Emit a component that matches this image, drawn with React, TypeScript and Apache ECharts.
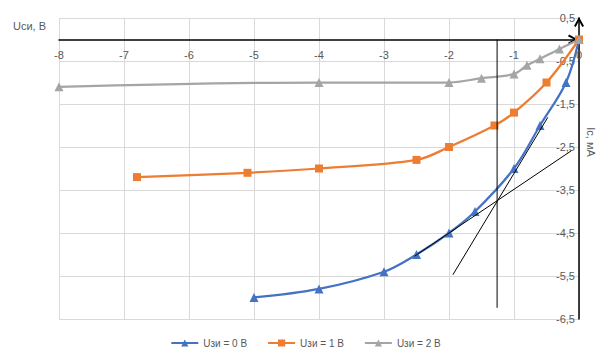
import React, { useEffect, useRef } from "react";
import * as echarts from "echarts";

const seriesNames = ["Uзи = 0 В", "Uзи = 1 В", "Uзи = 2 В"];
const blueX = [-5, -4, -3, -2.5, -2, -1.6, -1, -0.6, -0.2, 0];
const blueY = [-6.0, -5.8, -5.4, -5.0, -4.5, -4.0, -3.0, -2.0, -1.0, 0];
const orangeX = [-6.8, -5.1, -4, -2.5, -2, -1.3, -1, -0.5, 0];
const orangeY = [-3.2, -3.1, -3.0, -2.8, -2.5, -2.0, -1.7, -1.0, 0];
const grayX = [-8, -4, -2, -1.5, -1, -0.8, -0.6, -0.3, 0];
const grayY = [-1.1, -1.0, -1.0, -0.9, -0.8, -0.6, -0.45, -0.22, 0];
const tangent1 = [[-1.94, -5.47], [-0.48, -1.81]];
const tangent2 = [[-2.53, -5.04], [-0.12, -2.59]];
const verticalLine = [[-1.26, 0], [-1.26, -6.24]];

const FONT = "Liberation Sans";
const TXT = "#595959";
const arrowPath = "path://M5,0 L10,9 L8.3,10 L5,4 L1.7,10 L0,9 Z";

const zip = (xs: number[], ys: number[]) => xs.map((x, i) => [x, ys[i]]);

export default function App() {
  const ref = useRef<HTMLDivElement>(null);
  useEffect(() => {
    if (!ref.current) return;
    const chart = echarts.init(ref.current, undefined, { renderer: "svg" });
    const lineSeries = (name: string, color: string, symbol: string, data: number[][]) => ({
      name,
      type: "line",
      data,
      smooth: 0.35,
      symbol,
      symbolSize: symbol === "rect" ? 8 : 9,
      itemStyle: { color },
      lineStyle: { color, width: 2.25 },
      z: 3,
    });
    const refLine = (data: number[][]) => ({
      type: "line",
      data,
      symbol: "none",
      silent: true,
      lineStyle: { color: "#000", width: 1 },
      z: 4,
    });
    chart.setOption({
      animation: false,
      textStyle: { fontFamily: FONT },
      grid: [
        { left: 59, right: 32, top: 18, bottom: 42, containLabel: false },
        { left: 59, right: 32, top: 18, bottom: 321, containLabel: false },
      ],
      legend: {
        bottom: 8,
        left: "center",
        itemWidth: 27,
        itemHeight: 9,
        itemGap: 20,
        data: seriesNames,
        textStyle: { color: TXT, fontSize: 10, fontFamily: FONT },
      },
      xAxis: [
        {
          type: "value",
          gridIndex: 0,
          min: -8,
          max: 0,
          interval: 1,
          axisLine: {
            onZero: true,
            onZeroAxisIndex: 0,
            lineStyle: { color: "#000", width: 1.5 },
            symbol: ["none", arrowPath],
            symbolSize: [10, 12],
            symbolOffset: [0, -6],
          },
          axisTick: { show: false },
          axisLabel: { show: false },
          splitLine: { show: true, lineStyle: { color: "#D9D9D9", width: 1 } },
        },
        {
          type: "value",
          gridIndex: 1,
          min: -8,
          max: 0,
          interval: 1,
          position: "bottom",
          axisLine: { show: false },
          axisTick: { show: false },
          axisLabel: { color: TXT, fontSize: 11, margin: 9, fontFamily: FONT },
          splitLine: { show: false },
        },
      ],
      yAxis: [
        {
          type: "value",
          gridIndex: 0,
          min: -6.5,
          max: 0.5,
          position: "right",
          offset: 0,
          axisLine: {
            show: true,
            onZero: false,
            lineStyle: { color: "#000", width: 1.5 },
            symbol: ["none", arrowPath],
            symbolSize: [10, 12],
            symbolOffset: [0, -4],
          },
          axisTick: { show: false },
          axisLabel: { show: false },
          splitLine: { show: false },
        },
        {
          type: "value",
          gridIndex: 0,
          min: -6,
          max: 1,
          interval: 1,
          position: "right",
          offset: 0,
          axisLine: { show: false, onZero: false },
          axisTick: { show: false },
          axisLabel: {
            inside: true,
            margin: 4,
            color: TXT,
            fontSize: 11,
            fontFamily: FONT,
            formatter: (v: number) => (v - 0.5).toFixed(1).replace(".", ","),
          },
          splitLine: { show: true, lineStyle: { color: "#D9D9D9", width: 1 } },
        },
        {
          type: "value",
          gridIndex: 1,
          show: false,
          min: 0,
          max: 1,
        },
      ],
      graphic: [
        {
          type: "text",
          left: 13,
          top: 20,
          style: { text: "Uси, В", fill: TXT, font: `11px "${FONT}"` },
        },
        {
          type: "text",
          x: 591,
          y: 142,
          rotation: -Math.PI / 2,
          style: {
            text: "Iс, мА",
            fill: TXT,
            font: `11px "${FONT}"`,
            align: "center",
            verticalAlign: "middle",
          },
        },
      ],
      series: [
        lineSeries(seriesNames[0], "#4472C4", "triangle", zip(blueX, blueY)),
        lineSeries(seriesNames[1], "#ED7D31", "rect", zip(orangeX, orangeY)),
        lineSeries(seriesNames[2], "#A5A5A5", "triangle", zip(grayX, grayY)),
        refLine(tangent1),
        refLine(tangent2),
        refLine(verticalLine),
      ],
    });
    return () => chart.dispose();
  }, []);
  return (
    <div
      ref={ref}
      style={{ position: "fixed", left: 0, top: 0, width: 611, height: 361, background: "#fff" }}
    />
  );
}
